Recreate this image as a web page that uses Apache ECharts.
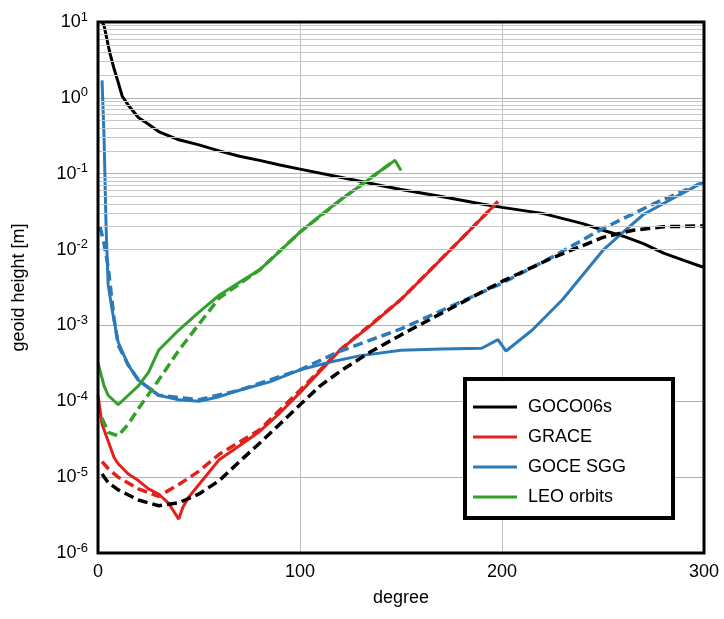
<!DOCTYPE html>
<html>
<head>
<meta charset="utf-8">
<script src="https://cdn.jsdelivr.net/npm/echarts@6/dist/echarts.min.js"></script>
<style>html,body{margin:0;padding:0;background:#fff}#main{width:724px;height:619px}</style>
</head>
<body>
<div id="main"></div>
<script>
// degree / value pairs
var gocoSignal = [[2,10],[3,9],[5,5],[6,3.8],[8,2.4],[10,1.6],[12,1.05],[15,0.8],[20,0.55],[25,0.45],[30,0.36],[40,0.28],[50,0.24],[60,0.2],[70,0.17],[80,0.15],[90,0.13],[100,0.115],[120,0.09],[140,0.07],[150,0.062],[170,0.05],[190,0.04],[200,0.036],[220,0.03],[240,0.022],[250,0.018],[260,0.015],[270,0.012],[280,0.009],[290,0.0072],[300,0.0058]];
var gocoError = [[2,1.1e-5],[5,8.5e-6],[10,6.8e-6],[20,5e-6],[30,4.2e-6],[40,4.6e-6],[50,6e-6],[60,9e-6],[70,1.6e-5],[80,2.8e-5],[90,5e-5],[100,9e-5],[110,1.6e-4],[120,2.5e-4],[135,4.5e-4],[150,7.5e-4],[175,1.7e-3],[200,3.8e-3],[225,7.8e-3],[250,1.45e-2],[265,1.8e-2],[280,2e-2],[300,2.05e-2]];
var graceReal = [[0,1.2e-4],[2,5e-5],[5,3e-5],[8,1.8e-5],[10,1.5e-5],[15,1.1e-5],[20,9e-6],[25,7e-6],[30,6e-6],[35,4.5e-6],[40,2.8e-6],[42,4e-6],[45,5.5e-6],[50,8e-6],[60,1.7e-5],[70,2.6e-5],[80,4e-5],[90,7e-5],[100,1.3e-4],[110,2.5e-4],[120,4.8e-4],[135,1e-3],[150,2.2e-3],[165,5.5e-3],[180,1.4e-2],[190,2.6e-2],[198,4.3e-2]];
var graceSim = [[2,1.6e-5],[5,1.3e-5],[10,1e-5],[20,7e-6],[30,5.6e-6],[40,8e-6],[50,1.2e-5],[60,2e-5],[80,4.2e-5],[100,1.4e-4],[120,4.8e-4],[150,2.2e-3],[180,1.4e-2],[198,4.3e-2]];
var goceReal = [[2,1.7],[3,0.3],[4,0.02],[5,3.5e-3],[7,1.6e-3],[10,6e-4],[15,3e-4],[20,1.9e-4],[30,1.2e-4],[40,1.05e-4],[50,1e-4],[60,1.15e-4],[70,1.4e-4],[85,1.8e-4],[100,2.6e-4],[115,3.3e-4],[130,4e-4],[150,4.7e-4],[170,4.9e-4],[190,5e-4],[198,6.5e-4],[202,4.6e-4],[215,8.7e-4],[230,2.2e-3],[250,9.8e-3],[260,1.7e-2],[270,2.9e-2],[285,4.8e-2],[300,7.8e-2]];
var goceSim = [[1,2e-2],[3,1.2e-2],[5,6e-3],[8,1.2e-3],[10,5.5e-4],[15,3e-4],[20,1.9e-4],[30,1.2e-4],[50,1.05e-4],[70,1.4e-4],[100,2.6e-4],[120,4.6e-4],[150,9e-4],[175,1.8e-3],[200,3.6e-3],[225,8e-3],[250,1.9e-2],[275,4e-2],[300,7.8e-2]];
var leoReal = [[0,3.2e-4],[3,1.6e-4],[5,1.2e-4],[10,9e-5],[15,1.2e-4],[20,1.6e-4],[25,2.4e-4],[30,4.7e-4],[40,8.7e-4],[50,1.5e-3],[60,2.5e-3],[70,3.7e-3],[80,5.4e-3],[90,9.5e-3],[100,1.7e-2],[110,2.8e-2],[120,4.5e-2],[130,7e-2],[140,1.1e-1],[147,1.5e-1],[150,1.1e-1]];
var leoSim = [[2,6e-5],[5,3.9e-5],[10,3.5e-5],[15,5e-5],[20,8e-5],[30,1.9e-4],[40,4.7e-4],[60,2.3e-3],[80,5.4e-3],[100,1.7e-2],[120,4.5e-2],[140,1.1e-1],[147,1.5e-1]];
var legendNames = ['GOCO06s','GRACE','GOCE SGG','LEO orbits'];
var colors = ['#000000','#e3211c','#2b7bba','#33a02c'];

var minorLines = [];
for (var e = -6; e < 1; e++) {
    for (var m = 2; m <= 9; m++) minorLines.push({yAxis: m * Math.pow(10, e)});
}
function line(name, data, color, dashed) {
    return {
        name: name, type: 'line', data: data, showSymbol: false, z: dashed ? 4 : 3,
        lineStyle: {color: color, width: dashed ? 3.5 : 3, type: dashed ? [10, 5] : 'solid'},
        itemStyle: {color: color}
    };
}
var series = [
    {type: 'line', data: [], silent: true, markLine: {symbol: 'none', silent: true, label: {show: false},
        lineStyle: {color: '#c8c8c8', width: 1, type: 'solid'}, data: minorLines}},
    line(legendNames[1], graceSim, colors[1], true),
    line('gs', goceSim, colors[2], true),
    line('ls', leoSim, colors[3], true),
    line('ge', gocoError, colors[0], true),
    line(legendNames[0], gocoSignal, colors[0], false),
    line(legendNames[1], graceReal, colors[1], false),
    line(legendNames[2], goceReal, colors[2], false),
    line(legendNames[3], leoReal, colors[3], false)
];
var chart = echarts.init(document.getElementById('main'));
chart.setOption({
    animation: false,
    grid: {left: 98, right: 20, top: 22, bottom: 66, show: true, borderColor: '#000', borderWidth: 3, z: 10},
    legend: {
        data: legendNames, orient: 'vertical', left: 465, top: 379,
        padding: [19, 47, 12, 8], itemGap: 12, itemWidth: 44, itemHeight: 3,
        backgroundColor: '#fff', borderColor: '#000', borderWidth: 4,
        textStyle: {fontFamily: 'Liberation Sans', fontSize: 18, color: '#000', padding: [0, 0, 0, 6]},
        icon: 'rect'
    },
    xAxis: {
        type: 'value', min: 0, max: 300, interval: 100, name: 'degree', nameLocation: 'middle', nameGap: 36,
        nameTextStyle: {fontFamily: 'Liberation Sans', fontSize: 18, color: '#000'},
        axisLine: {show: false}, axisTick: {show: false},
        axisLabel: {fontFamily: 'Liberation Sans', fontSize: 18, color: '#000', margin: 10},
        splitLine: {lineStyle: {color: '#c0c0c0', width: 1}}
    },
    yAxis: {
        type: 'log', logBase: 10, min: 1e-6, max: 10, name: 'geoid height [m]', nameLocation: 'middle', nameGap: 70,
        nameTextStyle: {fontFamily: 'Liberation Sans', fontSize: 18, color: '#000'},
        axisLine: {show: false}, axisTick: {show: false},
        axisLabel: {
            margin: 10, color: '#000',
            formatter: function (v) { return '10{s|' + Math.round(Math.log10(v)) + '}'; },
            rich: {s: {fontSize: 13, verticalAlign: 'top', padding: [0, 0, 10, 0], fontFamily: 'Liberation Sans'}},
            fontFamily: 'Liberation Sans', fontSize: 18
        },
        splitLine: {lineStyle: {color: '#b0b0b0', width: 1}}
    },
    series: series
});
</script>
</body>
</html>
